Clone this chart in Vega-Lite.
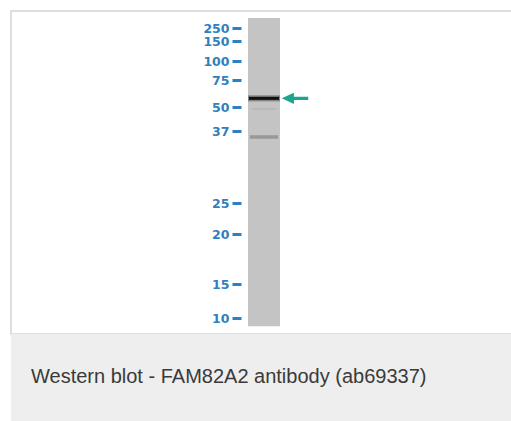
{
  "$schema": "https://vega.github.io/schema/vega-lite/v6.json",
  "background": "white",
  "padding": {"left": 10, "top": 10, "right": 0, "bottom": 0},
  "spacing": 0,
  "bounds": "flush",
  "config": {"view": {"stroke": null}},
  "datasets": {
    "lane": [{"lane": "Lane 1", "gel_top_kDa": 327, "gel_bottom_kDa": 8.8}],
    "bands": [
      {"lane": "Lane 1", "kDa": 58, "signal": "strong"},
      {"lane": "Lane 1", "kDa": 49, "signal": "trace"},
      {"lane": "Lane 1", "kDa": 36, "signal": "faint"}
    ],
    "target": [{"lane": "Lane 1", "kDa": 58, "label": "FAM82A2"}],
    "caption": [{"caption": "Western blot - FAM82A2 antibody (ab69337)"}]
  },
  "vconcat": [
    {
      "width": 501,
      "height": 323,
      "view": {"stroke": "#dedede", "strokeWidth": 2, "fill": "white"},
      "layer": [
        {
          "data": {"name": "lane"},
          "mark": {"type": "rect", "color": "#c4c4c4"},
          "encoding": {
            "x": {"field": "lane", "type": "nominal", "axis": null,
                  "scale": {"domain": ["Lane 1"], "range": [237, 269], "paddingInner": 0, "paddingOuter": 0}},
            "y": {"field": "gel_top_kDa", "type": "quantitative",
                  "scale": {"domain": [250, 150, 100, 75, 50, 37, 25, 20, 15, 10],
                            "range": [17, 30, 50, 69, 96, 120, 192, 223, 273, 307],
                            "nice": false, "zero": false},
                  "axis": {"orient": "left", "offset": -230, "title": null,
                           "values": [250, 150, 100, 75, 50, 37, 25, 20, 15, 10],
                           "tickCount": 50,
                           "domain": false, "grid": false, "labelOverlap": false, "labelFlush": false,
                           "tickColor": "#2f80c0", "tickSize": 9, "tickWidth": 3,
                           "labelColor": "#2f80c0", "labelFont": "DejaVu Sans", "labelFontSize": 12.5,
                           "labelFontWeight": "bold", "labelPadding": 3}},
            "y2": {"field": "gel_bottom_kDa"}
          }
        },
        {
          "data": {"name": "bands"},
          "transform": [{"filter": "datum.signal === 'strong'"}],
          "mark": {"type": "tick", "color": "#444444", "opacity": 0.5, "thickness": 6, "size": 32},
          "encoding": {
            "x": {"field": "lane", "type": "nominal"},
            "y": {"field": "kDa", "type": "quantitative"}
          }
        },
        {
          "data": {"name": "bands"},
          "transform": [{"filter": "datum.signal === 'strong'"}],
          "mark": {"type": "tick", "color": "#111111", "opacity": 1, "thickness": 3, "size": 30},
          "encoding": {
            "x": {"field": "lane", "type": "nominal"},
            "y": {"field": "kDa", "type": "quantitative"}
          }
        },
        {
          "data": {"name": "bands"},
          "transform": [{"filter": "datum.signal === 'faint'"}],
          "mark": {"type": "tick", "color": "#989898", "opacity": 1, "thickness": 3.5, "size": 28},
          "encoding": {
            "x": {"field": "lane", "type": "nominal"},
            "y": {"field": "kDa", "type": "quantitative"}
          }
        },
        {
          "data": {"name": "bands"},
          "transform": [{"filter": "datum.signal === 'trace'"}],
          "mark": {"type": "tick", "color": "#b6b6b6", "opacity": 1, "thickness": 1.5, "size": 24},
          "encoding": {
            "x": {"field": "lane", "type": "nominal"},
            "y": {"field": "kDa", "type": "quantitative"}
          }
        },
        {
          "data": {"name": "target"},
          "mark": {"type": "point", "filled": true, "color": "#1ba58e", "opacity": 1, "strokeWidth": 0,
                   "size": 700, "xOffset": 31,
                   "shape": "M-1,0L-0.08,-0.42L-0.08,-0.12L1,-0.12L1,0.12L-0.08,0.12L-0.08,0.42Z"},
          "encoding": {
            "x": {"field": "lane", "type": "nominal"},
            "y": {"field": "kDa", "type": "quantitative"}
          }
        }
      ]
    },
    {
      "width": 501,
      "height": 88,
      "view": {"fill": "#edeeed", "stroke": null},
      "title": {"text": "Western blot - FAM82A2 antibody (ab69337)", "orient": "top", "anchor": "start",
                "frame": "group", "offset": -69, "dx": 20, "baseline": "alphabetic",
                "font": "Liberation Sans", "fontSize": 20, "fontWeight": "normal", "color": "#3a3a3a"},
      "data": {"name": "caption"},
      "mark": {"type": "point", "opacity": 0},
      "encoding": {}
    }
  ]
}
